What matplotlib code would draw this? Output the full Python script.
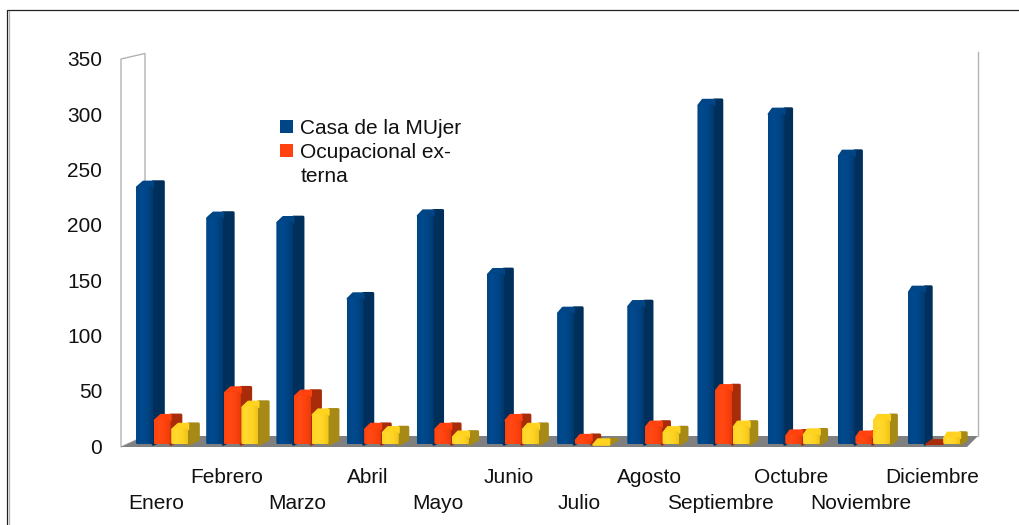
import matplotlib
matplotlib.use('Agg')
import matplotlib.pyplot as plt
import numpy as np
from matplotlib.colors import LinearSegmentedColormap
from matplotlib.lines import Line2D
from matplotlib.patches import BoxStyle, FancyBboxPatch, Polygon, Rectangle

plt.rcParams['font.family'] = ['Liberation Sans', 'DejaVu Sans']

months = ['Enero', 'Febrero', 'Marzo', 'Abril', 'Mayo', 'Junio', 'Julio',
          'Agosto', 'Septiembre', 'Octubre', 'Noviembre', 'Diciembre']
casa = [235, 207, 203, 134, 209, 156, 121, 127, 309, 301, 263, 140]
ocupacional = [24, 49, 46, 16, 16, 24, 6, 18, 51, 10, 9, 0]
tercera = [16, 36, 29, 13, 9, 16, 2, 13, 18, 11, 24, 8]
y_ticks = [0, 50, 100, 150, 200, 250, 300, 350]

W, H = 1020, 525
fig = plt.figure(figsize=(W / 100, H / 100), dpi=100)

# frame of the picture: only left and top are there
fig.add_artist(Line2D([7.5 / W, 7.5 / W, 1], [0, 1 - 10 / H, 1 - 10 / H],
                      color='#222222', lw=0.9))
fig.add_artist(Line2D([9 / W, 9 / W], [0, 1 - 11 / H], color='#b0b0b0', lw=0.9))

# front plane of the 3d box
left, right, base, top = 121, 967, 446, 59
ax = fig.add_axes([left / W, 1 - base / H, (right - left) / W, (base - top) / H])
ax.patch.set_visible(False)
for s in ax.spines.values():
    s.set_visible(False)

px_x = 12 / (right - left)
px_y = 350 / (base - top)


def wall_depth(x):
    # the box is seen in perspective, depth shrinks going right
    return 24 - 13 * x / 12


def bar_depth(x):
    return 10.5 - 4.5 * x / 12


def poly(pts, color, z, lw=0.0):
    ax.add_patch(Polygon(pts, closed=True, facecolor=color, edgecolor=color, lw=lw,
                         joinstyle='round', clip_on=False, zorder=z))


# floor and walls
floor_back = 10 * px_y
floor_front = -1 * px_y
poly([(0, floor_front), (12, floor_front), (12 + wall_depth(12) * px_x, floor_back),
      (wall_depth(0) * px_x, floor_back)], '#808080', 1)
wall_pts = [(0, floor_front), (0, 350), (wall_depth(0) * px_x, 355),
            (wall_depth(0) * px_x, floor_back)]
ax.add_patch(Polygon(wall_pts, closed=True, fill=False, edgecolor='#b3b3b3', lw=1,
                     clip_on=False, zorder=0.5))
ax.plot([12 + wall_depth(12) * px_x] * 2, [floor_back, 356], color='#b3b3b3', lw=1,
        clip_on=False, zorder=0.5)

series = [(casa, ['#004586', '#004a8e', '#004586', '#003a70'], '#002f5c'),
          (ocupacional, ['#ff420e', '#ff4a14', '#ff420e', '#e83c0c'], '#a82c09'),
          (tercera, ['#ffd320', '#ffda30', '#ffd320', '#eec41c'], '#a68a15')]
bar_w = 17 * px_x
step = 17.6 * px_x
bar_floor = 1.5
gradient = np.linspace(0, 1, 32).reshape(1, -1)

z = 2
for i in range(len(months)):
    start = i + 0.213 - 0.05 * i / 11
    for k, (vals, shades, side) in enumerate(series):
        x0 = start + k * step
        x1 = x0 + bar_w
        v = max(vals[i], bar_floor)
        dx = bar_depth(x0) * px_x
        dy = 4.5 * px_y
        if vals[i] <= bar_floor:
            # nothing to show but the flat top
            poly([(x0, v), (x0 + dx, v + dy), (x1 + dx, v + dy), (x1, v)], side, z, 1)
            z += 0.2
            continue
        # side and back part of the top, kept clear of the left edge
        poly([(x1 - 2 * px_x, v), (x1, v + dy), (x1 + dx, v + dy),
              (x1 + dx, bar_floor + dy), (x1, bar_floor)], side, z, 2)
        # top melts into the front face
        poly([(x0 + 1 * px_x, v - 1 * px_y), (x0 + dx * 0.7, v + dy), (x1, v + dy), (x1, v - 1 * px_y)],
             shades[0], z + 0.05, 1.5)
        h_px = (v - bar_floor) / px_y
        r = min(2, h_px / 2) * px_x
        face = FancyBboxPatch((x0, bar_floor), bar_w, v - bar_floor,
                              boxstyle=BoxStyle.Round(pad=0, rounding_size=r),
                              mutation_aspect=px_y / px_x, facecolor='none',
                              edgecolor='none', zorder=z + 0.1)
        ax.add_patch(face)
        cmap = LinearSegmentedColormap.from_list('face', shades)
        im = ax.imshow(gradient, extent=(x0, x1, bar_floor, v), aspect='auto',
                       cmap=cmap, interpolation='bilinear', zorder=z + 0.1)
        im.set_clip_path(face)
        z += 0.2

ax.set_xlim(0, 12)
ax.set_ylim(0, 350)
ax.set_yticks(y_ticks)
ax.set_xticks([i + 0.5 for i in range(len(months))])
ax.set_xticklabels(months)
ax.tick_params(length=0, labelsize=15, colors='#111111')
ax.tick_params(axis='y', pad=13.5)
for i, tick in enumerate(ax.xaxis.get_major_ticks()):
    tick.set_pad(34.5 if i % 2 == 0 else 15.5)

# legend, the yellow series has no entry
legend_items = [('Casa de la MUjer', 127, '#004586'),
                ('Ocupacional ex-\nterna', 151, '#ff420e')]
for label, y_px, color in legend_items:
    fig.add_artist(Rectangle((280 / W, 1 - (y_px + 6) / H), 13 / W, 13 / H,
                             transform=fig.transFigure, facecolor=color, edgecolor='none'))
    fig.text(300.5 / W, 1 - (y_px - 7.5) / H, label, fontsize=15, va='top', ha='left',
             color='#111111', linespacing=1.27)

fig.savefig('out.png', dpi=100)
